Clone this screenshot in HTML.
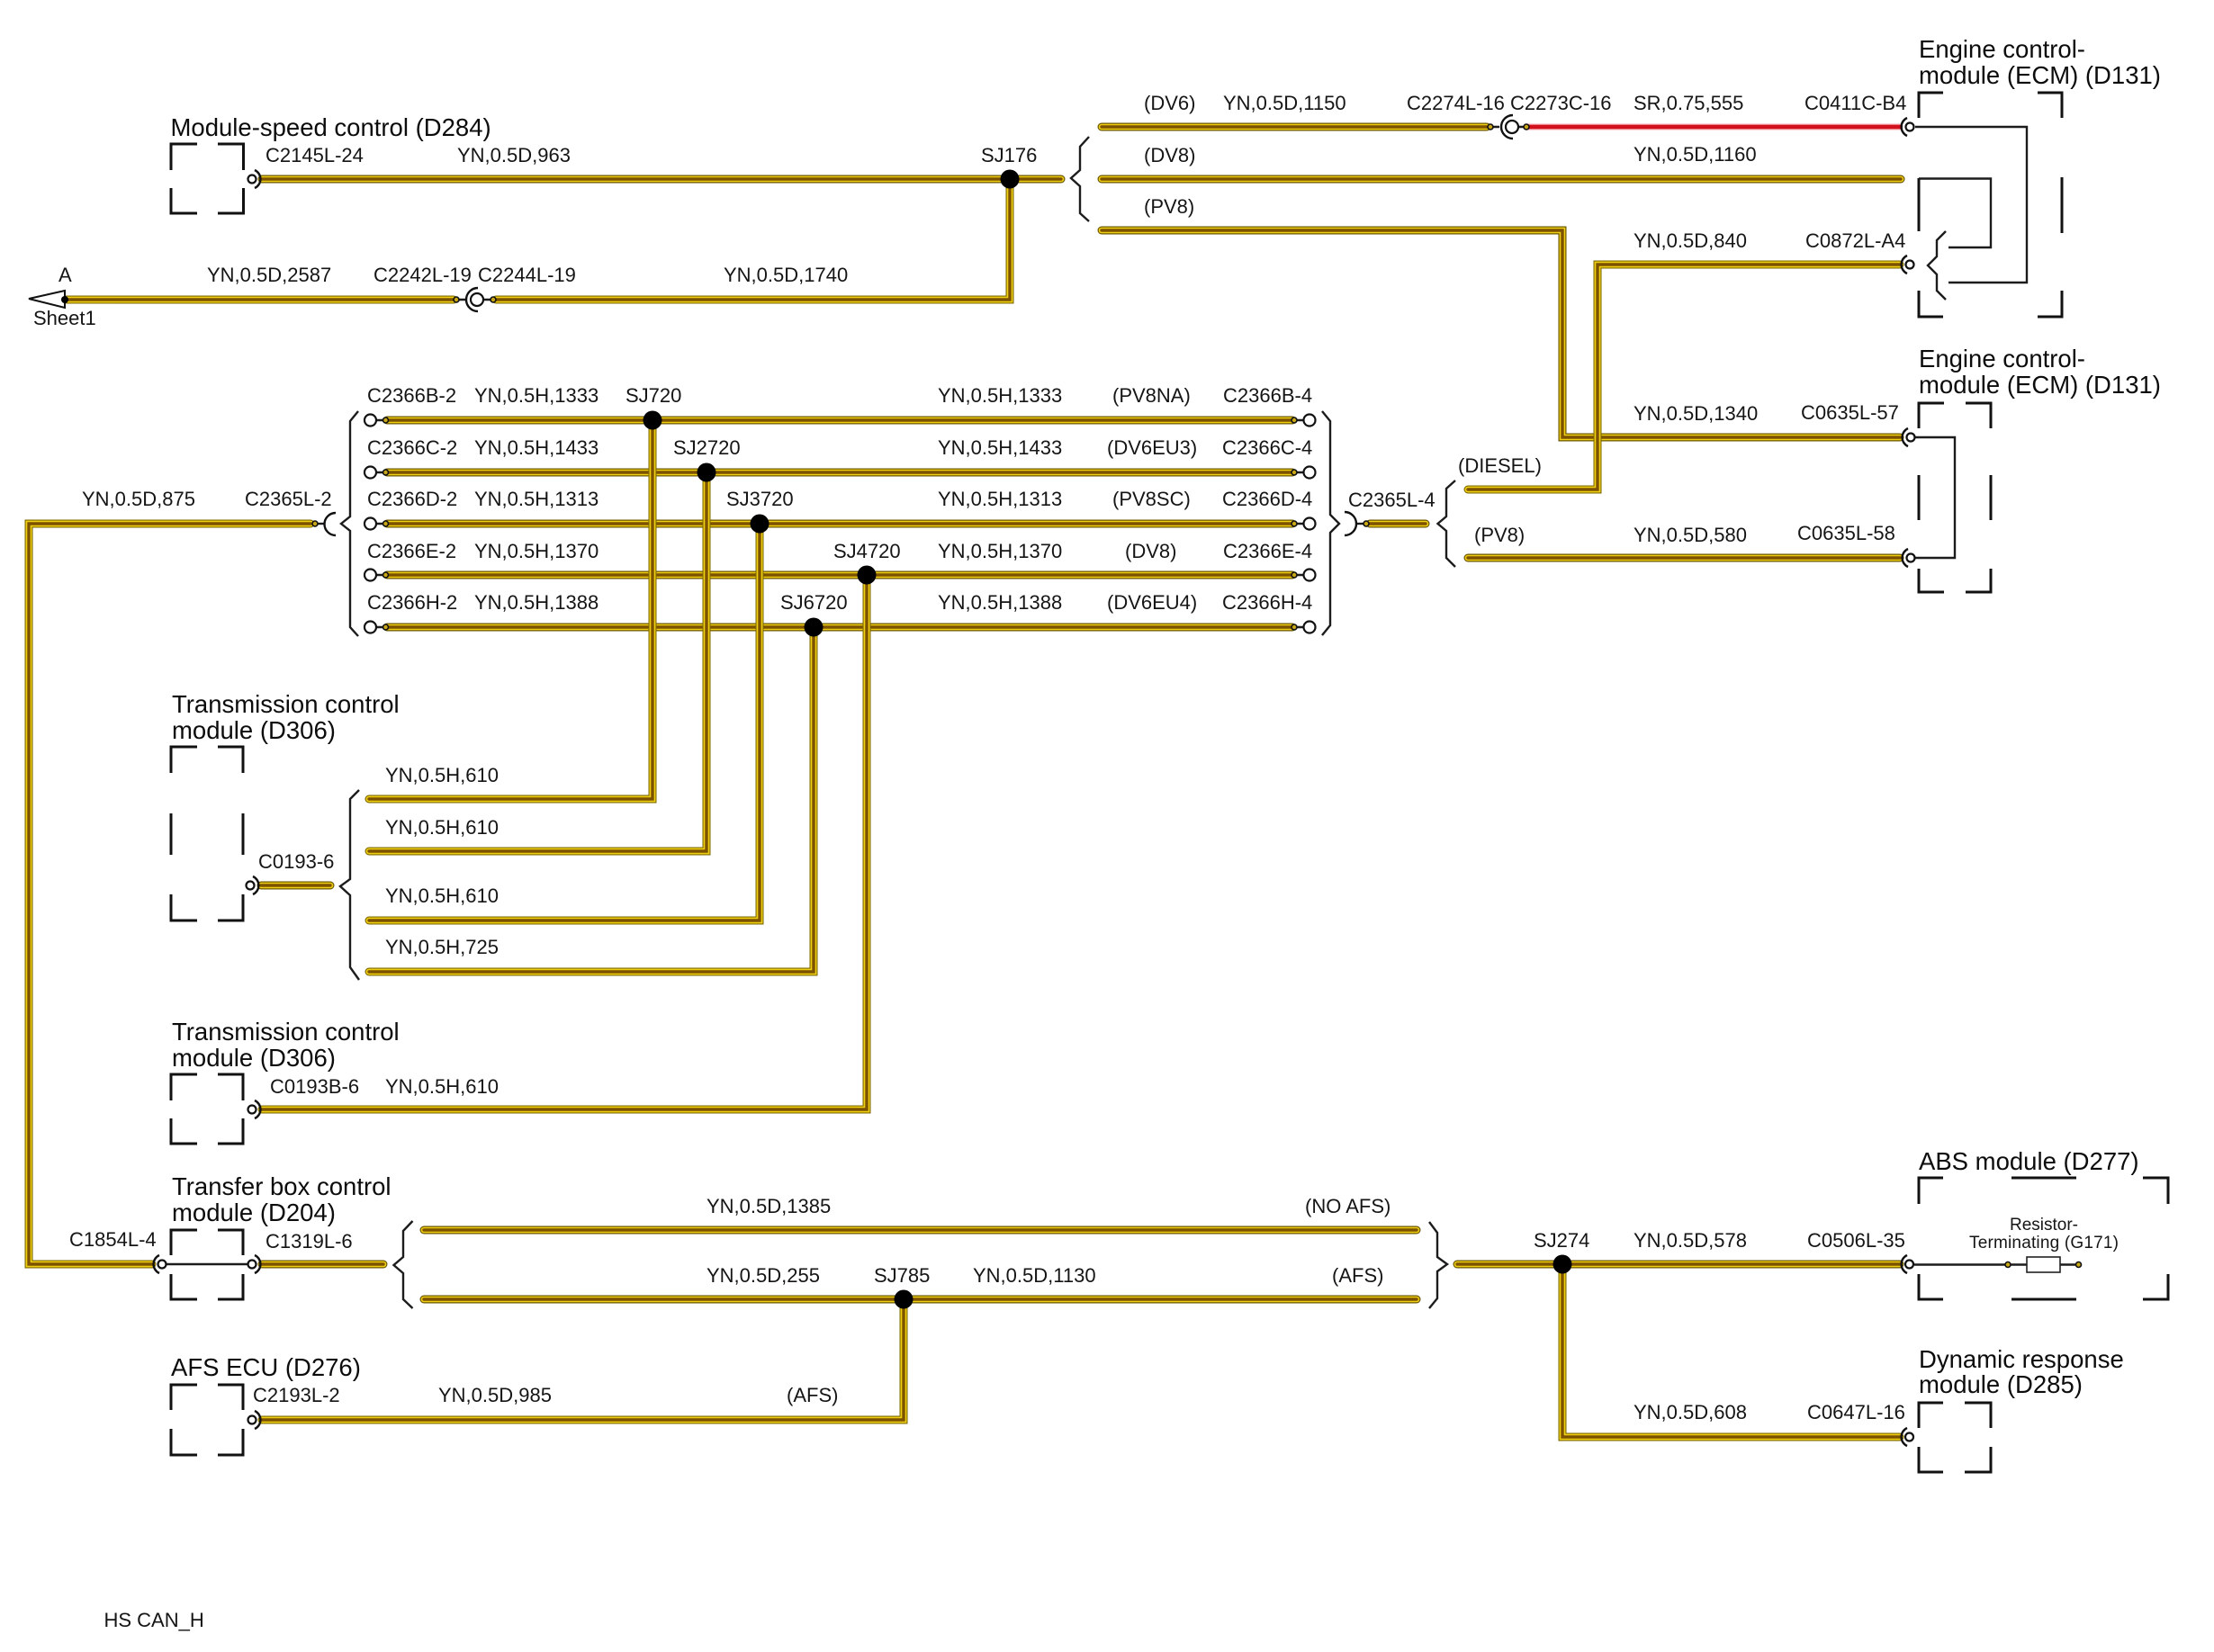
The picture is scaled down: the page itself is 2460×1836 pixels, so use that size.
<!DOCTYPE html>
<html><head><meta charset="utf-8"><title>HS CAN_H</title>
<style>
html,body{margin:0;padding:0;background:#fff}
svg{display:block}
text{font-family:"Liberation Sans",sans-serif;font-size:22px;fill:#151515}
.t{font-size:27.5px;fill:#0c0c0c}
.s{font-size:19px;text-anchor:middle}
.b{fill:none;stroke:#111;stroke-width:3}
.l{fill:none;stroke:#1c1c1c;stroke-width:2.4}
.a{fill:none;stroke:#111;stroke-width:2.4}
.c{fill:#fff;stroke:#111;stroke-width:2.2}
.d{fill:#c9a818;stroke:#111;stroke-width:1.6}
.j{fill:#000}
</style></head><body>
<svg xmlns="http://www.w3.org/2000/svg" width="2460" height="1836" viewBox="0 0 2460 1836">
<rect width="2460" height="1836" fill="#fff"/>
<defs>
<g id="h" fill="none" stroke-linejoin="miter" stroke-linecap="round">
<path d="M291 199H1179"/>
<path d="M1224 141H1652"/>
<path d="M1224 199H2112"/>
<path d="M1224 256H1736V486H2111"/>
<path d="M430 467H1436"/><path d="M430 525H1436"/><path d="M430 582H1436"/><path d="M430 639H1436"/><path d="M430 697H1436"/>
<path d="M1522 582H1584"/>
<path d="M1631 620H2111"/>
<path d="M290 984H367"/>
<path d="M471 1367H1574"/>
<path d="M471 1444H1574"/>
<path d="M291 1405H426"/>
<path d="M1619 1405H2111"/>
</g>
<g id="v" fill="none" stroke-linejoin="miter" stroke-linecap="round">
<path d="M72 333H504"/>
<path d="M551 333H1122V199"/>
<path d="M2111 294H1775V544H1631"/>
<path d="M345 582H32V1405H169"/>
<path d="M725 467V888H410"/>
<path d="M785 525V946H410"/>
<path d="M844 582V1023H410"/>
<path d="M904 697V1080H410"/>
<path d="M963 639V1233H291"/>
<path d="M1004 1444V1578H291"/>
<path d="M1736 1405V1597H2111"/>
</g>
</defs>
<use href="#h" stroke="#6a5600" stroke-width="9"/>
<use href="#h" stroke="#efcf12" stroke-width="6.600"/>
<use href="#h" stroke="#7c5200" stroke-width="3.400"/>
<use href="#v" stroke="#7c6800" stroke-width="9"/>
<use href="#v" stroke="#efcf12" stroke-width="6.800"/>
<use href="#v" stroke="#7c5200" stroke-width="3.400"/>
<path d="M1696 141H2114" stroke="#f4a8ac" stroke-width="7" fill="none"/>
<path d="M1696 141H2114" stroke="#d2101e" stroke-width="4.400" fill="none"/>

<!-- boxes -->
<path class="b" d="M219 160H190V189M242 160H270.500V189M190 209V237H219M270.500 209V237H242"/>
<path class="b" d="M219 830H190V859M242 830H270V859M190 904V950M270 904V950M190 994V1023H219M270 994V1023H242"/>
<path class="b" d="M219 1194H190V1223M242 1194H270V1223M190 1243V1271H219M270 1243V1271H242"/>
<path class="b" d="M219 1367H190V1395M242 1367H270V1395M190 1416V1444H219M270 1416V1444H242"/>
<path class="b" d="M219 1539H190V1567M242 1539H270V1567M190 1588V1617H219M270 1588V1617H242"/>
<path class="b" d="M2159 103H2132V131M2264 103H2291V131M2132 198V257M2291 197V259M2132 323V352H2159M2291 323V352H2264"/>
<path class="b" d="M2160 448H2132V476M2184 448H2212V476M2132 528V578M2212 528V578M2132 632V658H2160M2212 632V658H2184"/>
<path class="b" d="M2159 1309H2132V1338M2381 1309H2409V1338M2235 1309H2307M2132 1416V1444H2159M2409 1416V1444H2381M2235 1444H2307"/>
<path class="b" d="M2159 1559H2132V1587M2183 1559H2212V1587M2132 1608V1636H2159M2212 1608V1636H2183"/>

<!-- internal thin lines -->
<path class="l" d="M2128 141H2252V314H2165"/>
<path class="l" d="M2132 198.500H2212V275H2165"/>
<path class="l" d="M2162 257L2152 267V285L2142 295L2152 305V323L2162 333"/>
<path class="l" d="M2128 486H2172V620H2128"/>
<path class="l" d="M185 1405H275"/>
<path class="l" d="M2127 1405.500H2252M2289 1405.500H2309"/>
<rect x="2252" y="1397" width="37" height="17" fill="#fff" stroke="#222" stroke-width="1.600"/>
<circle class="d" cx="2231" cy="1405.500" r="3"/><circle class="d" cx="2309.500" cy="1405.500" r="3"/>

<!-- brackets -->
<path class="l" d="M398 457L389 468V574L379 582L389 590V697L398 707"/>
<path class="l" d="M1469 457L1478 468V572L1488 582L1478 592V695L1469 706"/>
<path class="l" d="M1617 534L1607 543V574L1597.500 582L1607 590V620L1617 630"/>
<path class="l" d="M399 878L389 888V977L378 985L389 995V1075L399 1089"/>
<path class="l" d="M458.500 1357L448 1368V1397L437.500 1406L448 1415V1444L458.500 1454"/>
<path class="l" d="M1588 1358L1597 1370V1397L1608 1405L1597 1413V1443L1588 1454"/>
<path class="l" d="M1210 152L1200 163V189L1190 198L1200 207V237L1210 246"/>

<!-- arrow -->
<path d="M32 332L72 323V342Z" fill="#fff" stroke="#111" stroke-width="2"/>
<circle class="j" cx="72" cy="333" r="4"/>

<!-- connectors -->
<g>
<circle class="c" cx="280" cy="199" r="4.500"/><path class="a" d="M283 189A11 11 0 0 1 283 209"/>
<circle class="c" cx="278" cy="984" r="4.500"/><path class="a" d="M281 974A11 11 0 0 1 281 994"/>
<circle class="c" cx="280" cy="1233" r="4.500"/><path class="a" d="M283 1223A11 11 0 0 1 283 1243"/>
<circle class="c" cx="280" cy="1405" r="4.500"/><path class="a" d="M283 1395A11 11 0 0 1 283 1415"/>
<circle class="c" cx="280" cy="1578" r="4.500"/><path class="a" d="M283 1568A11 11 0 0 1 283 1588"/>
<circle class="c" cx="180" cy="1405" r="4.500"/><path class="a" d="M177 1395A11 11 0 0 0 177 1415"/>
<circle class="c" cx="2122" cy="141" r="4.500"/><path class="a" d="M2119 131A11 11 0 0 0 2119 151"/>
<circle class="c" cx="2122" cy="294" r="4.500"/><path class="a" d="M2119 284A11 11 0 0 0 2119 304"/>
<circle class="c" cx="2123" cy="486" r="4.500"/><path class="a" d="M2120 476A11 11 0 0 0 2120 496"/>
<circle class="c" cx="2123" cy="620" r="4.500"/><path class="a" d="M2120 610A11 11 0 0 0 2120 630"/>
<circle class="c" cx="2121.500" cy="1405" r="4.500"/><path class="a" d="M2119 1395A11 11 0 0 0 2119 1415"/>
<circle class="c" cx="2121.500" cy="1597" r="4.500"/><path class="a" d="M2119 1587A11 11 0 0 0 2119 1607"/>
</g>
<!-- inline connectors -->
<path class="l" d="M507 333H517M537 333H548"/><path class="a" d="M531 320A13 13 0 0 0 531 346"/><circle class="c" cx="530" cy="333" r="7"/>
<circle class="d" cx="507" cy="333" r="3"/><circle class="d" cx="548" cy="333" r="3"/>
<path class="l" d="M1656 141H1666M1686 141H1696"/><path class="a" d="M1681 128A13 13 0 0 0 1681 154"/><circle class="c" cx="1680" cy="141" r="7"/>
<circle class="d" cx="1656" cy="141" r="3"/><circle class="d" cx="1696" cy="141" r="3"/>
<path class="l" d="M350 582H361"/><path class="a" d="M373 570A12.500 12.500 0 0 0 373 595"/><circle class="d" cx="350" cy="582" r="3"/>
<path class="l" d="M1507 582H1518"/><path class="a" d="M1494 569A13 13 0 0 1 1494 595"/><circle class="d" cx="1518" cy="582" r="3"/>

<!-- row ends -->
<g>
<path class="l" d="M418 467H428M418 525H428M418 582H428M418 639H428M418 697H428M1438 467H1448M1438 525H1448M1438 582H1448M1438 639H1448M1438 697H1448"/>
<circle class="c" cx="411.500" cy="467" r="6.500"/><circle class="c" cx="411.500" cy="525" r="6.500"/><circle class="c" cx="411.500" cy="582" r="6.500"/><circle class="c" cx="411.500" cy="639" r="6.500"/><circle class="c" cx="411.500" cy="697" r="6.500"/>
<circle class="c" cx="1455" cy="467" r="6.500"/><circle class="c" cx="1455" cy="525" r="6.500"/><circle class="c" cx="1455" cy="582" r="6.500"/><circle class="c" cx="1455" cy="639" r="6.500"/><circle class="c" cx="1455" cy="697" r="6.500"/>
<circle class="d" cx="428.500" cy="467" r="3"/><circle class="d" cx="428.500" cy="525" r="3"/><circle class="d" cx="428.500" cy="582" r="3"/><circle class="d" cx="428.500" cy="639" r="3"/><circle class="d" cx="428.500" cy="697" r="3"/>
<circle class="d" cx="1438" cy="467" r="3"/><circle class="d" cx="1438" cy="525" r="3"/><circle class="d" cx="1438" cy="582" r="3"/><circle class="d" cx="1438" cy="639" r="3"/><circle class="d" cx="1438" cy="697" r="3"/>
</g>

<!-- junctions -->
<circle class="j" cx="1122" cy="199" r="10.500"/>
<circle class="j" cx="725" cy="467" r="10.500"/><circle class="j" cx="785" cy="525" r="10.500"/>
<circle class="j" cx="844" cy="582" r="10.500"/><circle class="j" cx="963" cy="639" r="10.500"/>
<circle class="j" cx="904" cy="697" r="10.500"/><circle class="j" cx="1004" cy="1444" r="10.500"/>
<circle class="j" cx="1736" cy="1405" r="10.500"/>

<!-- titles -->
<text class="t" x="189.500" y="151">Module-speed control (D284)</text>
<text class="t" x="2132" y="64">Engine control-</text><text class="t" x="2132" y="93">module (ECM) (D131)</text>
<text class="t" x="2132" y="408">Engine control-</text><text class="t" x="2132" y="437">module (ECM) (D131)</text>
<text class="t" x="191" y="792">Transmission control</text><text class="t" x="191" y="821">module (D306)</text>
<text class="t" x="191" y="1156">Transmission control</text><text class="t" x="191" y="1185">module (D306)</text>
<text class="t" x="191" y="1328">Transfer box control</text><text class="t" x="191" y="1357">module (D204)</text>
<text class="t" x="190" y="1529">AFS ECU (D276)</text>
<text class="t" x="2132" y="1300">ABS module (D277)</text>
<text class="t" x="2132" y="1520">Dynamic response</text><text class="t" x="2132" y="1548">module (D285)</text>
<text class="s" x="2271" y="1367">Resistor-</text><text class="s" x="2271" y="1387" textLength="166">Terminating (G171)</text>

<!-- labels -->
<text x="295" y="180">C2145L-24</text><text x="508" y="180">YN,0.5D,963</text><text x="1090" y="180">SJ176</text>
<text x="65" y="313">A</text><text x="37" y="361">Sheet1</text>
<text x="230" y="313">YN,0.5D,2587</text><text x="415" y="313">C2242L-19</text><text x="531" y="313">C2244L-19</text><text x="804" y="313">YN,0.5D,1740</text>
<text x="1271" y="122">(DV6)</text><text x="1359" y="122">YN,0.5D,1150</text><text x="1563" y="122">C2274L-16</text><text x="1678" y="122">C2273C-16</text><text x="1815" y="122">SR,0.75,555</text><text x="2005" y="122">C0411C-B4</text>
<text x="1271" y="180">(DV8)</text><text x="1815" y="179">YN,0.5D,1160</text>
<text x="1271" y="237">(PV8)</text><text x="1815" y="275">YN,0.5D,840</text><text x="2006" y="275">C0872L-A4</text>
<text x="1815" y="467">YN,0.5D,1340</text><text x="2001" y="466">C0635L-57</text>
<text x="1620" y="525">(DIESEL)</text><text x="1498" y="563">C2365L-4</text><text x="1638" y="602">(PV8)</text>
<text x="1815" y="602">YN,0.5D,580</text><text x="1997" y="600">C0635L-58</text>

<text x="408" y="447">C2366B-2</text><text x="527" y="447">YN,0.5H,1333</text><text x="695" y="447">SJ720</text><text x="1042" y="447">YN,0.5H,1333</text><text x="1236" y="447">(PV8NA)</text><text x="1359" y="447">C2366B-4</text>
<text x="408" y="505">C2366C-2</text><text x="527" y="505">YN,0.5H,1433</text><text x="748" y="505">SJ2720</text><text x="1042" y="505">YN,0.5H,1433</text><text x="1230" y="505">(DV6EU3)</text><text x="1358" y="505">C2366C-4</text>
<text x="408" y="562">C2366D-2</text><text x="527" y="562">YN,0.5H,1313</text><text x="807" y="562">SJ3720</text><text x="1042" y="562">YN,0.5H,1313</text><text x="1236" y="562">(PV8SC)</text><text x="1358" y="562">C2366D-4</text>
<text x="408" y="620">C2366E-2</text><text x="527" y="620">YN,0.5H,1370</text><text x="926" y="620">SJ4720</text><text x="1042" y="620">YN,0.5H,1370</text><text x="1250" y="620">(DV8)</text><text x="1359" y="620">C2366E-4</text>
<text x="408" y="677">C2366H-2</text><text x="527" y="677">YN,0.5H,1388</text><text x="867" y="677">SJ6720</text><text x="1042" y="677">YN,0.5H,1388</text><text x="1230" y="677">(DV6EU4)</text><text x="1358" y="677">C2366H-4</text>

<text x="91" y="562">YN,0.5D,875</text><text x="272" y="562">C2365L-2</text>
<text x="428" y="869">YN,0.5H,610</text><text x="428" y="927">YN,0.5H,610</text><text x="287" y="965">C0193-6</text><text x="428" y="1003">YN,0.5H,610</text><text x="428" y="1060">YN,0.5H,725</text>
<text x="300" y="1215">C0193B-6</text><text x="428" y="1215">YN,0.5H,610</text>
<text x="77" y="1385">C1854L-4</text><text x="295" y="1387">C1319L-6</text>
<text x="785" y="1348">YN,0.5D,1385</text><text x="1450" y="1348">(NO AFS)</text>
<text x="785" y="1425">YN,0.5D,255</text><text x="971" y="1425">SJ785</text><text x="1081" y="1425">YN,0.5D,1130</text><text x="1480" y="1425">(AFS)</text>
<text x="281" y="1558">C2193L-2</text><text x="487" y="1558">YN,0.5D,985</text><text x="874" y="1558">(AFS)</text>
<text x="1704" y="1386">SJ274</text><text x="1815" y="1386">YN,0.5D,578</text><text x="2008" y="1386">C0506L-35</text>
<text x="1815" y="1577">YN,0.5D,608</text><text x="2008" y="1577">C0647L-16</text>
<text x="115.500" y="1808">HS CAN_H</text>
</svg>
</body></html>
